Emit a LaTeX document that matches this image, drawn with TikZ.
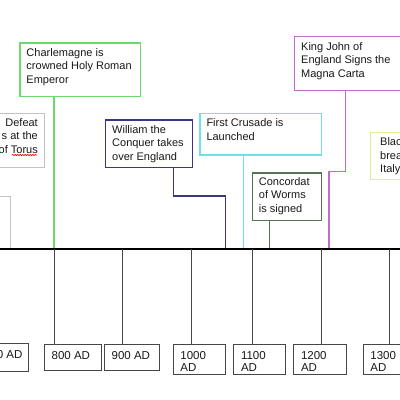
\documentclass[tikz,border=0pt]{standalone}
\usepackage{fontspec}
\setmainfont{Liberation Sans}
\usetikzlibrary{decorations.pathmorphing}
\definecolor{cgray}{RGB}{195,195,195}
\definecolor{cgreen}{RGB}{110,215,110}
\definecolor{cnavy}{RGB}{55,55,130}
\definecolor{ccyan}{RGB}{115,225,225}
\definecolor{cworm}{RGB}{85,115,85}
\definecolor{cviolet}{RGB}{190,110,200}
\definecolor{cyell}{RGB}{225,240,140}
\definecolor{cdark}{RGB}{70,70,70}
\definecolor{ctext}{RGB}{25,25,25}
\tikzset{
  evbox/.style={draw, line width=1.2pt, anchor=north west, inner sep=0pt},
  evtext/.style={anchor=north west, inner xsep=7pt, inner ysep=6pt,
    align=left, text=ctext, font=\fontsize{11}{13.5}\selectfont},
  datebox/.style={draw=cdark, line width=1.1pt, anchor=north west, inner sep=0pt},
  datetext/.style={anchor=north west, inner xsep=7.5pt, inner ysep=7.6pt,
    align=left, text=ctext, font=\fontsize{11.5}{12}\selectfont},
  conn/.style={line width=1.3pt},
  tick/.style={draw=cdark, line width=1.2pt}
}
\begin{document}
\begin{tikzpicture}[x=1pt,y=-1pt]
\useasboundingbox (0,0) rectangle (400,400);
\fill[white] (0,0) rectangle (400,400);
\clip (0,0) rectangle (400,400);

% axis
\coordinate (axL) at (0,249);
\coordinate (axR) at (400,249);

% event boxes
\node[evbox, draw=cgray, anchor=north east, minimum width=60pt, minimum height=54pt] (torus) at (45,113) {};
\node[evtext, anchor=north east, align=right, inner ysep=5pt] (torusT) at (torus.north east) {Defeat\\s at the\\of Torus};
\draw[red, line width=0.6pt, decorate, decoration={snake, amplitude=0.6pt, segment length=2.5pt}] (12,155) -- (37,155);
\node[draw=cgray, line width=1.2pt, anchor=north east, inner sep=0pt, minimum width=30pt, minimum height=53pt] (lbox) at (11,196) {};

\node[evbox, draw=cgreen, minimum width=120.7pt, minimum height=53.4pt] (charl) at (19.3,42.3) {};
\node[evtext] (charlT) at (charl.north west) {Charlemagne is\\crowned Holy Roman\\Emperor};

\node[evbox, draw=cnavy, minimum width=86.7pt, minimum height=47.4pt] (will) at (105,119.3) {};
\node[evtext] (willT) at (will.north west) {William the\\Conquer takes\\over England};

\node[evbox, draw=ccyan, minimum width=121.4pt, minimum height=41.6pt] (crus) at (199.3,112.7) {};
\node[evtext] (crusT) at (crus.north west) {First Crusade is\\Launched};

\node[evbox, draw=cworm, minimum width=69pt, minimum height=47.7pt] (worms) at (251.7,172.3) {};
\node[evtext, inner ysep=5pt] (wormsT) at (worms.north west) {Concordat\\of Worms\\is signed};

\node[evbox, draw=cviolet, minimum width=114pt, minimum height=54pt] (john) at (294,36) {};
\node[evtext] (johnT) at (john.north west) {King John of\\England Signs the\\Magna Carta};

\node[evbox, draw=cyell, minimum width=60pt, minimum height=47.3pt] (black) at (370,131.7) {};
\node[evtext, inner xsep=10pt] (blackT) at (black.north west) {Black\\breaks\\Italy};

% connector x positions on axis
\coordinate (kC) at (54,249);
\coordinate (kW) at (225.7,249);
\coordinate (kF) at (243.3,249);
\coordinate (kO) at (269.3,249);
\coordinate (kJ) at (329,249);
\coordinate (wx) at (173.3,196);
\coordinate (jx) at (345.7,171.7);

\draw[conn, cgreen] (charl.south -| kC) -- (kC);
\draw[conn, cnavy] (will.south -| wx) -- (wx) -- (wx -| kW) -- (kW);
\draw[conn, ccyan] (crus.south -| kF) -- (kF);
\draw[conn, cworm] (worms.south -| kO) -- (kO);
\draw[conn, cviolet] (john.south -| jx) -- (jx) -- (jx -| kJ) -- (kJ);

\draw[line width=1.8pt, black] (axL) -- (axR);

% date boxes
\node[datebox, minimum width=55pt, minimum height=28pt] (d700) at (-27,343) {};
\node[datetext, anchor=north east, inner xsep=6.5pt] (d700T) at (d700.north east) {700 AD};
\node[datebox, minimum width=57pt, minimum height=26pt] (d800) at (44,344) {};
\node[datetext] (d800T) at (d800.north west) {800 AD};
\node[datebox, minimum width=55pt, minimum height=26pt] (d900) at (104,344) {};
\node[datetext] (d900T) at (d900.north west) {900 AD};
\node[datebox, minimum width=52.3pt, minimum height=30pt] (d1000) at (172.7,344) {};
\node[datetext] (d1000T) at (d1000.north west) {1000\\AD};
\node[datebox, minimum width=51.7pt, minimum height=30pt] (d1100) at (233.3,344) {};
\node[datetext] (d1100T) at (d1100.north west) {1100\\AD};
\node[datebox, minimum width=52.4pt, minimum height=30pt] (d1200) at (293.3,344) {};
\node[datetext] (d1200T) at (d1200.north west) {1200\\AD};
\node[datebox, minimum width=55pt, minimum height=30pt] (d1300) at (362.7,344) {};
\node[datetext] (d1300T) at (d1300.north west) {1300\\AD};

\coordinate (t800) at (54.3,249);
\coordinate (t900) at (122.3,249);
\coordinate (t1000) at (191.7,249);
\coordinate (t1100) at (252.5,249);
\coordinate (t1200) at (321.5,249);
\coordinate (t1300) at (389.5,249);

\draw[tick] (t800) -- (d800.north -| t800);
\draw[tick] (t900) -- (d900.north -| t900);
\draw[tick] (t1000) -- (d1000.north -| t1000);
\draw[tick] (t1100) -- (d1100.north -| t1100);
\draw[tick] (t1200) -- (d1200.north -| t1200);
\draw[tick] (t1300) -- (d1300.north -| t1300);
\end{tikzpicture}
\end{document}
